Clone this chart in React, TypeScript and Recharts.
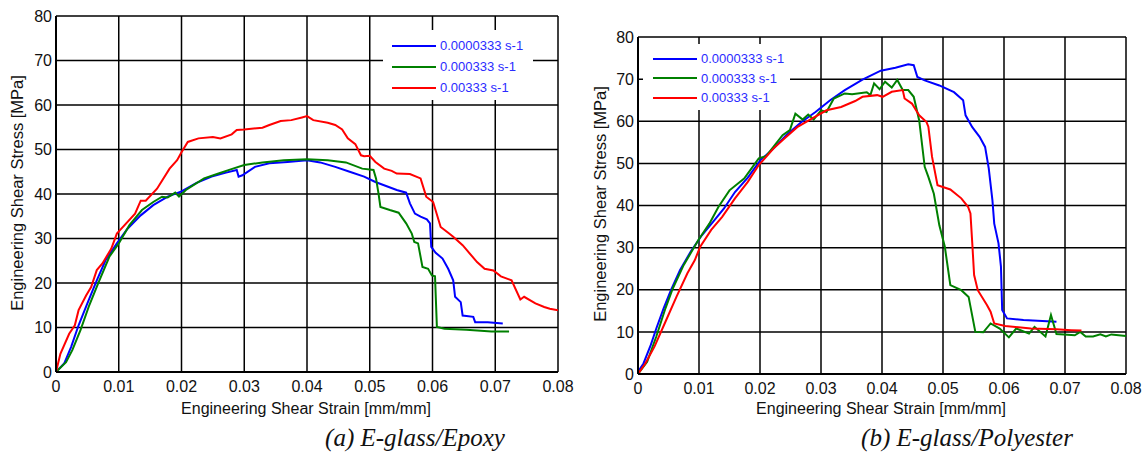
import { LineChart, Line, XAxis, YAxis, CartesianGrid, Legend } from 'recharts'

const strainTicks = [0, 0.01, 0.02, 0.03, 0.04, 0.05, 0.06, 0.07, 0.08]
const stressTicks = [0, 10, 20, 30, 40, 50, 60, 70, 80]
const rateLabels = ['0.0000333 s-1', '0.000333 s-1', '0.00333 s-1']
const captions = ['(a) E-glass/Epoxy', '(b) E-glass/Polyester']
const strainTitle = 'Engineering Shear Strain [mm/mm]'
const stressTitle = 'Engineering Shear Stress [MPa]'

// [strain (mm/mm), stress (MPa)] — E-glass/Epoxy
const epoxySlow: [number, number][] = [
  [0, 0], [0.0013, 1.9], [0.0024, 5.6], [0.0036, 10.5], [0.005, 15.4], [0.0065, 20.6],
  [0.0079, 25.1], [0.0097, 28.9], [0.0114, 32.2], [0.0135, 35.2], [0.0155, 37.5],
  [0.0178, 39.4], [0.02, 40.6], [0.0224, 42.5], [0.0248, 43.9], [0.0271, 44.8],
  [0.0288, 45.4], [0.0291, 43.9], [0.0297, 44.2], [0.0317, 46.1], [0.034, 46.9],
  [0.0369, 47.2], [0.04, 47.6], [0.0421, 47.1], [0.0445, 46.1], [0.0468, 45.0],
  [0.0491, 43.9], [0.0509, 42.7], [0.0526, 41.8], [0.0543, 40.9], [0.0558, 40.3],
  [0.0564, 37.9], [0.0572, 35.6], [0.0581, 34.9], [0.0591, 34.3], [0.0596, 33.4],
  [0.0598, 28.1], [0.0605, 26.8], [0.0616, 25.5], [0.0625, 23.2], [0.0633, 20.6],
  [0.0636, 16.9], [0.0645, 15.7], [0.0648, 12.7], [0.0665, 12.4], [0.0668, 11.2],
  [0.0688, 11.2], [0.0712, 10.9],
]
const epoxyMid: [number, number][] = [
  [0, 0], [0.0016, 2.2], [0.0026, 4.9], [0.0039, 9.4], [0.0053, 15.0], [0.0068, 20.2],
  [0.0085, 25.9], [0.01, 28.9], [0.0117, 33.0], [0.0137, 36.4], [0.0155, 38.2],
  [0.0169, 39.4], [0.0178, 39.2], [0.019, 40.3], [0.0196, 39.4], [0.0207, 40.9],
  [0.0219, 42.0], [0.0236, 43.5], [0.0259, 44.6], [0.0282, 45.7], [0.03, 46.5],
  [0.0329, 47.1], [0.0363, 47.6], [0.04, 47.8], [0.0433, 47.6], [0.0462, 47.1],
  [0.0488, 45.7], [0.0506, 45.4], [0.051, 43.5], [0.0514, 40.1], [0.0517, 37.1],
  [0.0532, 36.4], [0.0546, 35.8], [0.0558, 33.4], [0.0567, 31.1], [0.0571, 29.2],
  [0.0577, 28.9], [0.0584, 23.6], [0.0593, 23.2], [0.0599, 21.7], [0.0604, 21.5],
  [0.0607, 10.1], [0.0619, 9.7], [0.0654, 9.5], [0.0694, 9.1], [0.0722, 9.1],
]
const epoxyFast: [number, number][] = [
  [0, 0], [0.0007, 4.1], [0.0021, 8.6], [0.003, 10.5], [0.0036, 13.9], [0.0048, 17.2],
  [0.0056, 19.1], [0.0065, 22.9], [0.0074, 24.4], [0.0088, 27.7], [0.0097, 31.1],
  [0.0102, 31.9], [0.0126, 35.6], [0.0135, 38.5], [0.0143, 38.5], [0.0161, 41.2],
  [0.0181, 45.7], [0.0193, 47.6], [0.02, 49.4], [0.021, 51.7], [0.0227, 52.5],
  [0.025, 52.8], [0.0262, 52.5], [0.028, 53.4], [0.0288, 54.4], [0.03, 54.5],
  [0.0329, 54.9], [0.034, 55.5], [0.0358, 56.4], [0.0375, 56.6], [0.0392, 57.2],
  [0.04, 57.5], [0.041, 56.6], [0.0433, 56.0], [0.0445, 55.5], [0.0456, 54.5],
  [0.0465, 52.5], [0.0477, 51.2], [0.0486, 48.7], [0.0491, 48.5], [0.05, 48.6],
  [0.0509, 47.2], [0.0523, 45.7], [0.0535, 45.2], [0.0543, 44.6], [0.0564, 44.5],
  [0.0581, 43.5], [0.059, 39.4], [0.0601, 38.2], [0.0613, 32.6], [0.0625, 31.3],
  [0.0633, 30.4], [0.0648, 28.5], [0.0671, 24.7], [0.0683, 23.2], [0.0697, 22.8],
  [0.0709, 21.5], [0.0726, 20.6], [0.074, 16.3], [0.0746, 16.9], [0.0764, 15.4],
  [0.0778, 14.6], [0.0787, 14.2], [0.08, 13.9],
]

// [strain (mm/mm), stress (MPa)] — E-glass/Polyester
const polyesterSlow: [number, number][] = [
  [0, 0.5], [0.0009, 2.5], [0.0021, 6.9], [0.003, 10.8], [0.0042, 15.6], [0.0054, 19.9],
  [0.0069, 24.7], [0.0087, 29.2], [0.0105, 33.0], [0.0123, 36.1], [0.0141, 39.3],
  [0.0159, 43.2], [0.018, 46.6], [0.0201, 50.8], [0.0222, 53.5], [0.0243, 56.7],
  [0.0267, 59.7], [0.0291, 62.2], [0.0315, 65.0], [0.0339, 67.4], [0.0368, 69.9],
  [0.0398, 72.0], [0.0422, 72.7], [0.0443, 73.5], [0.0452, 73.3], [0.0458, 70.5],
  [0.047, 69.7], [0.0494, 68.5], [0.0518, 66.9], [0.0533, 65.0], [0.0537, 61.4],
  [0.0548, 58.6], [0.056, 56.3], [0.0569, 53.9], [0.0575, 48.8], [0.0581, 41.3],
  [0.0584, 35.7], [0.0591, 31.0], [0.0595, 25.5], [0.0597, 15.2], [0.0605, 13.2],
  [0.0632, 12.8], [0.0686, 12.4],
]
const polyesterMid: [number, number][] = [
  [0, 0], [0.0015, 2.9], [0.003, 8.9], [0.0045, 15.6], [0.0057, 20.3], [0.0075, 25.9],
  [0.0099, 31.8], [0.0117, 35.7], [0.0132, 39.7], [0.015, 43.6], [0.0174, 46.4],
  [0.0198, 51.2], [0.021, 51.7], [0.0222, 53.9], [0.0237, 56.7], [0.0249, 57.9],
  [0.0258, 61.8], [0.027, 60.4], [0.0279, 61.6], [0.0288, 60.4], [0.03, 62.6],
  [0.0309, 62.2], [0.0321, 65.4], [0.0339, 66.6], [0.0351, 66.4], [0.0375, 66.9],
  [0.0381, 66.2], [0.0387, 69.0], [0.0396, 67.6], [0.0405, 69.4], [0.0416, 68.0],
  [0.0425, 69.8], [0.0434, 67.4], [0.0443, 67.4], [0.0452, 65.8], [0.0461, 60.2],
  [0.047, 49.2], [0.0476, 46.8], [0.0485, 42.8], [0.0494, 35.3], [0.0503, 30.2],
  [0.0512, 21.1], [0.053, 19.9], [0.0542, 18.3], [0.0553, 10.0], [0.0566, 9.9],
  [0.0578, 12.0], [0.0593, 10.8], [0.0608, 8.7], [0.062, 10.8], [0.0641, 9.6],
  [0.065, 11.2], [0.0668, 8.9], [0.0677, 14.0], [0.0686, 9.5], [0.0698, 9.4],
  [0.0716, 9.2], [0.0725, 10.0], [0.0734, 8.9], [0.0746, 8.9], [0.0758, 9.4],
  [0.0767, 8.9], [0.0776, 9.4], [0.08, 9.0],
]
const polyesterFast: [number, number][] = [
  [0, 0], [0.0012, 2.5], [0.0027, 6.5], [0.0045, 12.4], [0.0063, 18.3], [0.0081, 23.9],
  [0.0093, 27.0], [0.0102, 30.2], [0.012, 34.2], [0.0138, 37.3], [0.0159, 41.7],
  [0.018, 45.6], [0.0198, 49.6], [0.0222, 53.5], [0.024, 55.9], [0.0261, 58.6],
  [0.0285, 60.6], [0.0309, 62.6], [0.0333, 63.4], [0.0356, 64.8], [0.0368, 65.8],
  [0.0392, 66.2], [0.0401, 65.8], [0.0416, 67.0], [0.0434, 67.4], [0.0437, 65.4],
  [0.0449, 64.2], [0.0461, 61.4], [0.0473, 59.8], [0.0476, 58.7], [0.0482, 51.6],
  [0.0491, 44.8], [0.0512, 43.8], [0.053, 41.7], [0.0541, 39.7], [0.0545, 38.1],
  [0.0548, 31.0], [0.0551, 23.5], [0.0557, 19.9], [0.0572, 16.4], [0.0578, 14.8],
  [0.0584, 12.0], [0.0602, 11.4], [0.0644, 10.8], [0.0686, 10.6], [0.071, 10.4],
  [0.0727, 10.3],
]

const COLORS = ['#0000ff', '#008000', '#ff0000']
const SANS = '"Liberation Sans", Arial, sans-serif'
const SERIF = '"Liberation Serif", "Times New Roman", serif'

const toPoints = (curve: [number, number][]) => curve.map(([strain, stress]) => ({ strain, stress }))
const fmtStrain = (v: number) => (v === 0 ? '0' : v.toFixed(2))

type LegendBox = { left: number; top: number; width: number; height: number; padLeft: number; padTop: number; rowHeight: number }

function RateLegend({ payload, box }: { payload?: any[]; box: LegendBox }) {
  const items = payload && payload.length ? payload : rateLabels.map((value, i) => ({ value, color: COLORS[i] }))
  return (
    <div style={{ paddingLeft: box.padLeft, paddingTop: box.padTop }}>
      {items.map((item) => (
        <div key={item.value} style={{ display: 'flex', alignItems: 'center', height: box.rowHeight }}>
          <svg width={44} height={4} style={{ marginRight: 4 }}>
            <line x1={0} y1={2} x2={44} y2={2} stroke={item.color} strokeWidth={2.2} />
          </svg>
          <span style={{ fontFamily: SANS, fontSize: 13, color: '#2b2bff', whiteSpace: 'nowrap' }}>{item.value}</span>
        </div>
      ))}
    </div>
  )
}

interface PanelProps {
  left: number
  width: number
  plotTop: number
  plotRight: number
  yAxisWidth: number
  xAxisHeight: number
  curves: [number, number][][]
  legend: LegendBox
}

function StressStrainPanel({ left, width, plotTop, plotRight, yAxisWidth, xAxisHeight, curves, legend }: PanelProps) {
  const tickStyle = { fontFamily: SANS, fontSize: 16, fill: '#111' }
  return (
    <div style={{ position: 'absolute', left, top: 0 }}>
      <LineChart width={width} height={400} margin={{ top: plotTop, right: plotRight, bottom: 0, left: 0 }}>
        <CartesianGrid stroke="#000" strokeWidth={1.5} />
        <XAxis
          type="number"
          dataKey="strain"
          domain={[0, 0.08]}
          ticks={strainTicks}
          tickFormatter={fmtStrain}
          height={xAxisHeight}
          tick={tickStyle}
          tickLine={false}
          tickSize={0}
          tickMargin={9}
          axisLine={{ stroke: '#000', strokeWidth: 2 }}
          allowDataOverflow
        />
        <YAxis
          type="number"
          dataKey="stress"
          domain={[0, 80]}
          ticks={stressTicks}
          width={yAxisWidth}
          tick={tickStyle}
          tickLine={false}
          tickSize={0}
          tickMargin={4}
          axisLine={{ stroke: '#000', strokeWidth: 2 }}
          allowDataOverflow
        />
        {curves.map((curve, i) => (
          <Line
            key={rateLabels[i]}
            name={rateLabels[i]}
            data={toPoints(curve)}
            dataKey="stress"
            stroke={COLORS[i]}
            strokeWidth={2}
            dot={false}
            activeDot={false}
            isAnimationActive={false}
          />
        ))}
        <Legend
          layout="vertical"
          align="center"
          verticalAlign="middle"
          wrapperStyle={{
            left: legend.left,
            top: legend.top,
            width: legend.width,
            height: legend.height,
            background: '#fff',
          }}
          content={(props: any) => <RateLegend payload={props.payload} box={legend} />}
        />
      </LineChart>
    </div>
  )
}

function TextAt({ x, y, text, size, rotate, font, italic }: { x: number; y: number; text: string; size: number; rotate?: boolean; font: string; italic?: boolean }) {
  return (
    <div
      style={{
        position: 'absolute',
        left: x,
        top: y,
        transform: `translate(-50%, -50%)${rotate ? ' rotate(-90deg)' : ''}`,
        fontFamily: font,
        fontSize: size,
        fontStyle: italic ? 'italic' : 'normal',
        color: '#111',
        whiteSpace: 'nowrap',
        lineHeight: 1,
      }}
    >
      {text}
    </div>
  )
}

export default function App() {
  return (
    <div style={{ position: 'absolute', left: 0, top: 0, width: 1147, height: 452, background: '#fff', overflow: 'hidden' }}>
      <StressStrainPanel
        left={0}
        width={580}
        plotTop={16}
        plotRight={22}
        yAxisWidth={56}
        xAxisHeight={28}
        curves={[epoxySlow, epoxyMid, epoxyFast]}
        legend={{ left: 383, top: 30, width: 150, height: 70, padLeft: 9, padTop: 5, rowHeight: 21 }}
      />
      <StressStrainPanel
        left={577}
        width={570}
        plotTop={37}
        plotRight={21}
        yAxisWidth={61}
        xAxisHeight={26}
        curves={[polyesterSlow, polyesterMid, polyesterFast]}
        legend={{ left: 66, top: 44, width: 147, height: 66, padLeft: 10, padTop: 5, rowHeight: 19.5 }}
      />
      <TextAt x={306} y={409} text={strainTitle} size={16} font={SANS} />
      <TextAt x={881} y={409} text={strainTitle} size={16} font={SANS} />
      <TextAt x={17} y={193} text={stressTitle} size={16.5} font={SANS} rotate />
      <TextAt x={600} y={204} text={stressTitle} size={16.5} font={SANS} rotate />
      <TextAt x={415} y={437} text={captions[0]} size={25} font={SERIF} italic />
      <TextAt x={967} y={437} text={captions[1]} size={25} font={SERIF} italic />
    </div>
  )
}
